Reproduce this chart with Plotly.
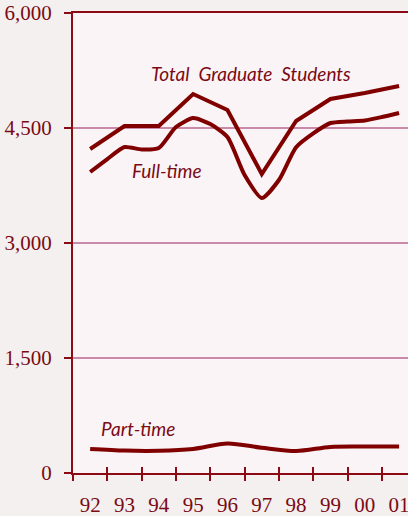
import plotly.graph_objects as go

# ---- data ----
years = [1992, 1993, 1994, 1995, 1996, 1997, 1998, 1999, 2000, 2001]
year_labels = ["92", "93", "94", "95", "96", "97", "98", "99", "00", "01"]

total = [4226, 4526, 4526, 4943, 4735, 3900, 4591, 4878, 4956, 5048]

semesters = [1992, 1992.5, 1993, 1993.5, 1994, 1994.5, 1995, 1995.5, 1996, 1996.5,
             1997, 1997.5, 1998, 1998.5, 1999, 1999.5, 2000, 2000.5, 2001]
full_time = [3926, 4095, 4252, 4219, 4239, 4513, 4630, 4552, 4383, 3887,
             3587, 3822, 4250, 4430, 4565, 4585, 4598, 4643, 4696]

part_time = [313, 292, 290, 313, 385, 330, 287, 340, 345, 345]

y_ticks = [0, 1500, 3000, 4500, 6000]
y_tick_labels = ["0", "1,500", "3,000", "4,500", "6,000"]

# ---- style ----
LINE = "#800000"
AXIS = "#8b0a14"
TEXT = "#7a0a14"
GRID = "#c98aaa"
PAPER = "#f4f0ef"
PLOT = "#faf4f6"

fig = go.Figure()
fig.add_trace(go.Scatter(x=years, y=total, mode="lines",
                         line=dict(color=LINE, width=4), hoverinfo="skip"))
fig.add_trace(go.Scatter(x=semesters, y=full_time, mode="lines",
                         line=dict(color=LINE, width=4, shape="spline", smoothing=0.6),
                         hoverinfo="skip"))
fig.add_trace(go.Scatter(x=years, y=part_time, mode="lines",
                         line=dict(color=LINE, width=4, shape="spline", smoothing=0.8),
                         hoverinfo="skip"))

xr = [1991.5, 2001.26]
half_ticks = [y - 0.5 for y in years]

lab_font = dict(family="Lato, 'Open Sans', sans-serif", size=19, color=TEXT)
fig.add_annotation(x=1996.68, y=5217, xref="x", yref="y", showarrow=False,
                   text="<i>Total  Graduate  Students</i>", font=lab_font)
fig.add_annotation(x=1994.23, y=3952, xref="x", yref="y", showarrow=False,
                   text="<i>Full-time</i>", font=lab_font)
fig.add_annotation(x=1993.38, y=574, xref="x", yref="y", showarrow=False,
                   text="<i>Part-time</i>", font=lab_font)

tick_font = dict(family="Liberation Serif, serif", size=21, color=TEXT)

fig.update_layout(
    width=408, height=516,
    margin=dict(l=73, r=0, t=13, b=43),
    paper_bgcolor=PAPER, plot_bgcolor=PLOT,
    showlegend=False,
    font=dict(family="Liberation Serif, serif", size=21, color=TEXT),
    xaxis=dict(range=xr, tickvals=years, ticktext=year_labels, ticks="",
               showgrid=False, zeroline=False, showline=True, linecolor=AXIS,
               linewidth=2, mirror=True, ticklabelstandoff=12, automargin=False,
               ticklabeloverflow="allow", tickfont=tick_font),
    xaxis2=dict(range=xr, overlaying="x", anchor="y", side="bottom",
                tickvals=half_ticks, showticklabels=False, ticks="outside",
                ticklen=7, tickwidth=1.5, tickcolor=AXIS, showgrid=False,
                zeroline=False, showline=False, automargin=False),
    xaxis3=dict(range=xr, overlaying="x", anchor="y", side="bottom",
                tickvals=half_ticks, showticklabels=False, ticks="inside",
                ticklen=6, tickwidth=1.5, tickcolor=AXIS, showgrid=False,
                zeroline=False, showline=False, automargin=False),
    yaxis=dict(range=[0, 6000], tickvals=y_ticks, ticktext=y_tick_labels,
               ticks="outside", ticklen=7, tickwidth=2, tickcolor=AXIS,
               showgrid=True, gridcolor=GRID, gridwidth=1.5,
               zeroline=False, showline=True, linecolor=AXIS, linewidth=2,
               ticklabelstandoff=8, automargin=False, ticklabeloverflow="allow",
               tickfont=tick_font),
)
# invisible traces to activate the overlay tick axes
fig.add_trace(go.Scatter(x=[years[0]], y=[0], xaxis="x2", mode="markers",
                         marker=dict(opacity=0), hoverinfo="skip"))
fig.add_trace(go.Scatter(x=[years[0]], y=[0], xaxis="x3", mode="markers",
                         marker=dict(opacity=0), hoverinfo="skip"))

fig.write_html("out.html",
               config={"displayModeBar": False},
               post_script="document.body.style.margin='0px';"
                           "document.body.style.background='" + PAPER + "';")
